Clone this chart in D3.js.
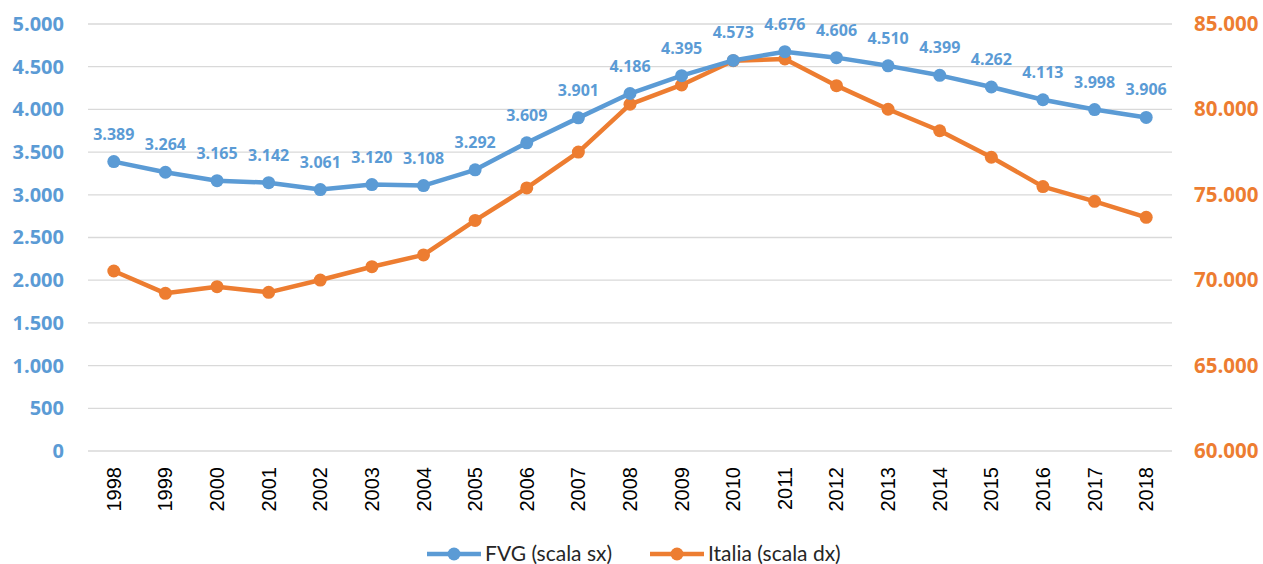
<!DOCTYPE html>
<html>
<head>
<meta charset="utf-8">
<script src="https://cdn.jsdelivr.net/npm/d3@7"></script>
<style>
  body { margin: 0; background: #fff; }
  text { font-family: "Open Sans", "Liberation Sans", sans-serif; }
</style>
</head>
<body>
<div id="viz"></div>
<script>
// years and series
var years = ["1998","1999","2000","2001","2002","2003","2004","2005","2006","2007","2008",
             "2009","2010","2011","2012","2013","2014","2015","2016","2017","2018"];
var fvg = [3389,3264,3165,3142,3061,3120,3108,3292,3609,3901,4186,4395,4573,4676,4606,4510,4399,4262,4113,3998,3906];
var italia = [70540,69230,69620,69290,70010,70790,71480,73500,75400,77500,80300,81430,82850,82950,81390,80010,78750,77200,75480,74620,73680];
var leftTicks = [0,500,1000,1500,2000,2500,3000,3500,4000,4500,5000];
var rightTicks = [60000,65000,70000,75000,80000,85000];

var blue = "#5B9BD5", orange = "#ED7D31";
var W = 1263, H = 564;
var plot = {left: 88, right: 1172, top: 24, bottom: 451};

var svg = d3.select("#viz").append("svg").attr("width", W).attr("height", H);

var x = d3.scaleBand().domain(years).range([plot.left, plot.right]);
var yL = d3.scaleLinear().domain([0, 5000]).range([plot.bottom, plot.top]);
var yR = d3.scaleLinear().domain([60000, 85000]).range([plot.bottom, plot.top]);
var fmt = function(v){ return d3.format(",")(v).replace(/,/g, "."); };

// gridlines
svg.append("g").selectAll("line").data(leftTicks).enter().append("line")
  .attr("x1", plot.left).attr("x2", plot.right)
  .attr("y1", function(d){ return yL(d); }).attr("y2", function(d){ return yL(d); })
  .attr("stroke", "#d9d9d9").attr("stroke-width", 1.3);

// left axis
var ax = svg.append("g").attr("transform", "translate(64,0)")
  .call(d3.axisLeft(yL).tickValues(leftTicks).tickSize(0).tickPadding(0).tickFormat(fmt));
ax.select(".domain").remove();
ax.selectAll("text").attr("fill", blue).attr("font-size", "20px").attr("font-weight", "bold")
  .style("font-family", "'Open Sans', sans-serif");

// right axis
var axR = svg.append("g").attr("transform", "translate(1194,0)")
  .call(d3.axisRight(yR).tickValues(rightTicks).tickSize(0).tickPadding(0).tickFormat(fmt));
axR.select(".domain").remove();
axR.selectAll("text").attr("fill", orange).attr("font-size", "20.5px").attr("font-weight", "bold")
  .style("font-family", "'Open Sans', sans-serif");

// x labels
svg.append("g").selectAll("text").data(years).enter().append("text")
  .attr("transform", function(d){ return "translate(" + (x(d) + x.bandwidth()/2 + 7) + ",467) rotate(-90)"; })
  .attr("text-anchor", "end")
  .attr("font-size", "20px").attr("fill", "#000")
  .style("font-family", "'Liberation Sans', sans-serif")
  .text(function(d){ return d; });

function cx(i){ return x(years[i]) + x.bandwidth()/2; }

// Italia line
svg.append("path").datum(italia)
  .attr("fill", "none").attr("stroke", orange).attr("stroke-width", 4.5).attr("stroke-linejoin", "round")
  .attr("d", d3.line().x(function(d,i){ return cx(i); }).y(function(d){ return yR(d); }));
svg.append("g").selectAll("circle").data(italia).enter().append("circle")
  .attr("cx", function(d,i){ return cx(i); }).attr("cy", function(d){ return yR(d); })
  .attr("r", 6.5).attr("fill", orange);

// FVG line
svg.append("path").datum(fvg)
  .attr("fill", "none").attr("stroke", blue).attr("stroke-width", 4.5).attr("stroke-linejoin", "round")
  .attr("d", d3.line().x(function(d,i){ return cx(i); }).y(function(d){ return yL(d); }));
svg.append("g").selectAll("circle").data(fvg).enter().append("circle")
  .attr("cx", function(d,i){ return cx(i); }).attr("cy", function(d){ return yL(d); })
  .attr("r", 6.5).attr("fill", blue);

// data labels
svg.append("g").selectAll("text").data(fvg).enter().append("text")
  .attr("x", function(d,i){ return cx(i); }).attr("y", function(d){ return yL(d) - 22; })
  .attr("text-anchor", "middle").attr("font-size", "16px").attr("font-weight", "bold")
  .attr("fill", blue)
  .text(function(d){ return fmt(d); });

// legend
var legend = [{name: "FVG (scala sx)", color: blue, x: 427}, {name: "Italia (scala dx)", color: orange, x: 650}];
var lg = svg.append("g").selectAll("g").data(legend).enter().append("g")
  .attr("transform", function(d){ return "translate(" + d.x + ",554)"; });
lg.append("line").attr("x1", 0).attr("x2", 54).attr("stroke", function(d){ return d.color; }).attr("stroke-width", 4.5);
lg.append("circle").attr("cx", 27).attr("r", 6.5).attr("fill", function(d){ return d.color; });
lg.append("text").attr("x", 58).attr("y", 7).attr("font-size", "21px").attr("fill", "#262626")
  .style("font-family", "Lato, sans-serif")
  .text(function(d){ return d.name; });
</script>
</body>
</html>
